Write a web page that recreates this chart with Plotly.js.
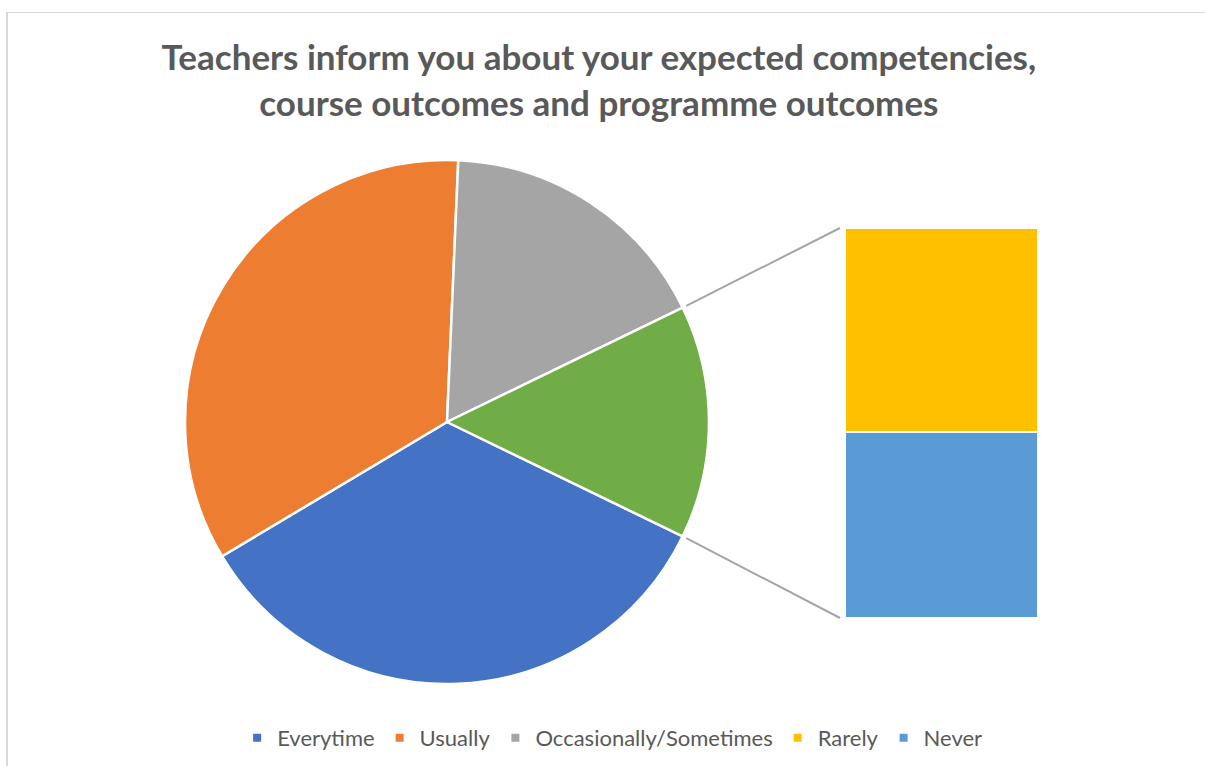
<!DOCTYPE html>
<html>
<head>
<meta charset="utf-8">
<script src="https://cdn.plot.ly/plotly-3.0.1.min.js"></script>
<style>
  html, body { margin: 0; padding: 0; background: #ffffff; }
  #wrap { position: relative; width: 1205px; height: 766px; overflow: hidden; }
  #chart { position: absolute; left: 0; top: 0; width: 1205px; height: 766px; }
  #frame { position: absolute; left: 6px; top: 12px; width: 1400px; height: 900px;
           border-left: 2px solid #D9D9D9; border-top: 1px solid #D9D9D9; pointer-events: none; }
</style>
</head>
<body>
<div id="wrap">
  <div id="chart"></div>
  <div id="frame"></div>
</div>
<script>
// ---- data ----
const categories = ['Everytime', 'Usually', 'Occasionally/Sometimes', 'Rarely', 'Never'];
const counts = [50, 50, 25, 11, 10];
const colors = ['#4472C4', '#ED7D31', '#A5A5A5', '#FFC000', '#5B9BD5'];
const otherLabel = 'Other';
const otherColor = '#70AD47';
const titleLines = ['Teachers inform you about your expected competencies,',
                    'course outcomes and programme outcomes'];

// ---- geometry ----
const W = 1205, H = 766;
const pieDomX = [185 / W, 709 / W];
const pieDomY = [82 / H, 606 / H];
const barDomX = [845 / W, 1038 / W];
const barDomY = [148 / H, 538 / H];

const pieCounts = counts.slice(0, 3);
const otherCount = counts[3] + counts[4];
const pieValues = pieCounts.concat([otherCount]);
const pieLabels = categories.slice(0, 3).concat([otherLabel]);
const pieColors = colors.slice(0, 3).concat([otherColor]);
const total = pieValues.reduce((a, b) => a + b, 0);
const otherDeg = 360 * otherCount / total;
const rotation = 90 + otherDeg / 2;

const cx = (pieDomX[0] + pieDomX[1]) / 2;
const cy = (pieDomY[0] + pieDomY[1]) / 2;
const rPx = Math.min((pieDomX[1] - pieDomX[0]) * W, (pieDomY[1] - pieDomY[0]) * H) / 2;
function edgePoint(deg, extra) {
  const a = deg * Math.PI / 180;
  return [cx + (rPx + extra) * Math.sin(a) / W, cy + (rPx + extra) * Math.cos(a) / H];
}
const pTop = edgePoint(90 - otherDeg / 2, 4);
const pBot = edgePoint(90 + otherDeg / 2, 4);
const barLeft = barDomX[0] - 5 / W;

const traces = [];
traces.push({
  type: 'pie',
  values: pieValues,
  labels: pieLabels,
  marker: { colors: pieColors, line: { color: '#ffffff', width: 2.5 } },
  sort: false,
  direction: 'clockwise',
  rotation: rotation,
  textinfo: 'none',
  hoverinfo: 'label+value+percent',
  showlegend: false,
  domain: { x: pieDomX, y: pieDomY }
});
// stacked bar of the "other" slice (Never bottom, Rarely top)
[4, 3].forEach(i => {
  traces.push({
    type: 'bar',
    x: [0],
    y: [counts[i]],
    width: [1],
    name: categories[i],
    marker: { color: colors[i], line: { color: '#ffffff', width: 2 } },
    showlegend: false,
    hoverinfo: 'name+y',
    xaxis: 'x', yaxis: 'y'
  });
});
// legend entries
categories.forEach((c, i) => {
  traces.push({
    type: 'scatter',
    mode: 'markers',
    x: [null], y: [null],
    name: c,
    legendrank: i + 1,
    marker: { symbol: 'square', size: 8, color: colors[i] },
    showlegend: true,
    hoverinfo: 'skip',
    xaxis: 'x', yaxis: 'y'
  });
});

const layout = {
  width: W, height: H,
  margin: { l: 0, r: 0, t: 0, b: 0 },
  paper_bgcolor: 'rgba(0,0,0,0)',
  plot_bgcolor: 'rgba(0,0,0,0)',
  font: { family: 'Lato, "Open Sans", sans-serif', color: '#595959' },
  title: {
    text: titleLines.join('<br>'),
    font: { family: 'Lato, "Open Sans", sans-serif', size: 35, color: '#595959', weight: 'bold' },
    x: 0.497, xanchor: 'center', xref: 'paper',
    y: 1 - 70 / H, yanchor: 'top', yref: 'container'
  },
  barmode: 'stack',
  bargap: 0,
  xaxis: { domain: barDomX, range: [-0.5, 0.5], visible: false, fixedrange: true },
  yaxis: { domain: barDomY, range: [0, otherCount], visible: false, fixedrange: true },
  showlegend: true,
  legend: {
    orientation: 'h',
    x: 0.508, xanchor: 'center',
    y: 1 - 738 / H, yanchor: 'middle',
    traceorder: 'normal',
    font: { size: 22, color: '#595959' },
    bgcolor: 'rgba(0,0,0,0)'
  },
  shapes: [
    { type: 'line', xref: 'paper', yref: 'paper', x0: pTop[0], y0: pTop[1], x1: barLeft, y1: barDomY[1],
      line: { color: '#A5A5A5', width: 2 } },
    { type: 'line', xref: 'paper', yref: 'paper', x0: pBot[0], y0: pBot[1], x1: barLeft, y1: barDomY[0],
      line: { color: '#A5A5A5', width: 2 } }
  ]
};

Plotly.newPlot('chart', traces, layout, { displayModeBar: false, staticPlot: false });
</script>
</body>
</html>
